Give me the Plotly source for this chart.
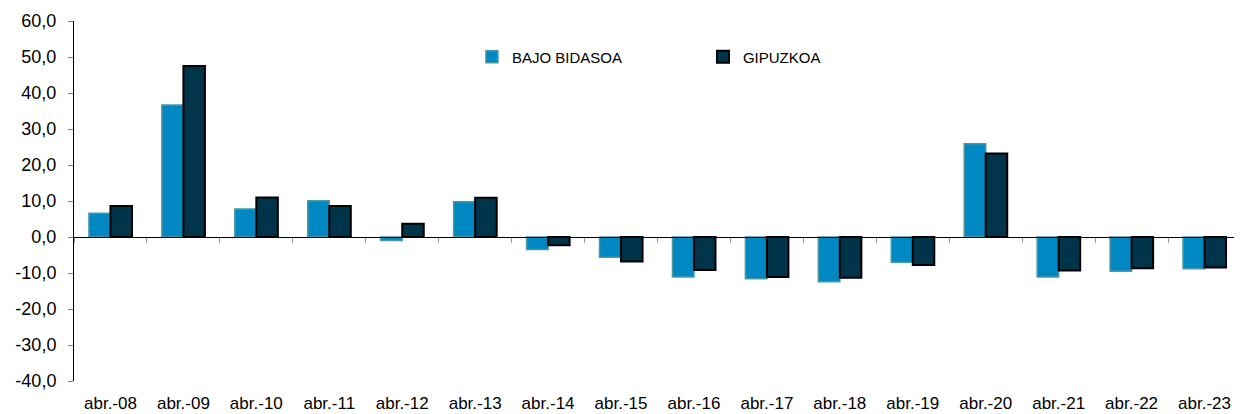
import plotly.graph_objects as go

categories = ["abr.-08", "abr.-09", "abr.-10", "abr.-11", "abr.-12", "abr.-13", "abr.-14", "abr.-15",
              "abr.-16", "abr.-17", "abr.-18", "abr.-19", "abr.-20", "abr.-21", "abr.-22", "abr.-23"]
bajo_bidasoa = [6.6, 36.7, 7.8, 10.1, -1.0, 9.8, -3.5, -5.6, -11.1, -11.6, -12.4, -7.0, 25.9, -11.1, -9.5, -8.8]
gipuzkoa = [8.6, 47.5, 11.0, 8.6, 3.7, 10.9, -2.3, -6.8, -9.2, -11.1, -11.3, -7.8, 23.2, -9.3, -8.7, -8.5]
y_tickvals = [-40, -30, -20, -10, 0, 10, 20, 30, 40, 50, 60]
y_ticktext = ["-40,0", "-30,0", "-20,0", "-10,0", "0,0", "10,0", "20,0", "30,0", "40,0", "50,0", "60,0"]

FONT = "Liberation Sans, Arial, sans-serif"

fig = go.Figure()
fig.add_trace(go.Bar(
    x=categories, y=bajo_bidasoa, name="BAJO BIDASOA",
    marker=dict(color="#0088C2", line=dict(color="#4A98A6", width=1.5)),
))
fig.add_trace(go.Bar(
    x=categories, y=gipuzkoa, name="GIPUZKOA",
    marker=dict(color="#00344A", line=dict(color="#000000", width=2)),
))
# invisible helper trace so the zero-line category axis (ticks between categories) is drawn
fig.add_trace(go.Scatter(
    x=categories, y=[0] * len(categories), xaxis="x2", mode="markers",
    marker=dict(opacity=0), showlegend=False, hoverinfo="skip",
))

n = len(categories)
fig.update_layout(
    width=1233, height=414,
    margin=dict(l=66, r=0, t=13, b=41, autoexpand=False),
    paper_bgcolor="white", plot_bgcolor="white",
    barmode="group", bargap=0.41, bargroupgap=0,
    font=dict(family=FONT, size=17, color="#000000"),
    showlegend=True,
    legend=dict(
        orientation="h", x=0.341, y=0.9, xanchor="left", yanchor="middle",
        font=dict(family=FONT, size=15, color="#000000"),
        entrywidth=186, entrywidthmode="pixels",
        bgcolor="rgba(0,0,0,0)", itemwidth=30,
    ),
    xaxis=dict(
        type="category", range=[-0.5, n - 0.5], showline=False, ticks="",
        showgrid=False, zeroline=False, ticklabelstandoff=10, automargin=False,
        tickfont=dict(family=FONT, size=17, color="#000000"),
    ),
    xaxis2=dict(
        type="category", matches="x", overlaying="x", anchor="free", position=0.4,
        showline=True, linecolor="#000000", linewidth=1, automargin=False,
        ticks="outside", tickson="boundaries", ticklen=5, tickcolor="#9a9a9a",
        showticklabels=False, showgrid=False, zeroline=False,
    ),
    yaxis=dict(
        range=[-40, 60], tickvals=y_tickvals, ticktext=y_ticktext,
        showline=True, linecolor="#000000", linewidth=1, automargin=False,
        ticks="outside", ticklen=5, tickcolor="#7f7f7f", ticklabelstandoff=8,
        showgrid=False, zeroline=False,
        tickfont=dict(family=FONT, size=18, color="#000000"),
    ),
)

fig.write_html("out.html")
